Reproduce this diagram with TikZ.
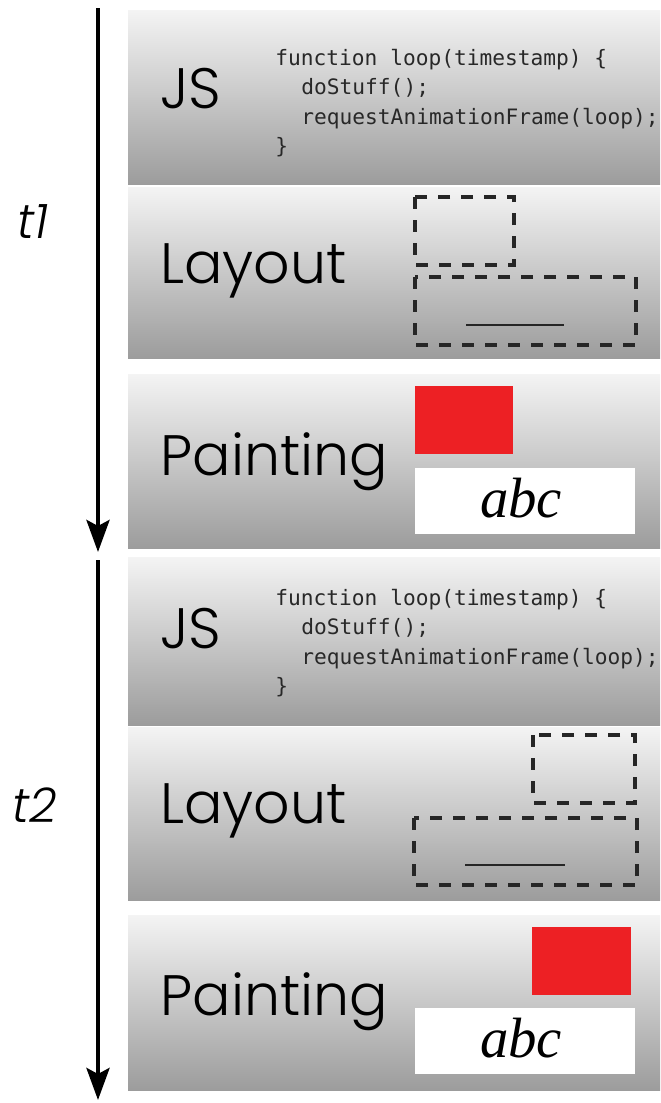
\documentclass[tikz,border=0pt]{standalone}
\usepackage{fontspec}
\setmainfont{Liberation Serif}
\newfontfamily\geofont{Poppins Light}
\newfontfamily\codefont{DejaVu Sans Mono}
\usetikzlibrary{arrows.meta}

\definecolor{bandtop}{RGB}{244,244,244}
\definecolor{bandbot}{RGB}{156,156,156}
\definecolor{paintred}{RGB}{237,32,36}
\definecolor{codegray}{RGB}{40,40,40}

\tikzset{
  band/.style={rectangle, anchor=north west, inner sep=0pt, outer sep=0pt,
    minimum width=266pt, top color=bandtop, bottom color=bandbot, draw=none},
  stage/.style={anchor=base west, inner sep=0pt,
    font=\geofont\fontsize{28.5}{30}\selectfont},
  codeline/.style={anchor=base west, inner sep=0pt, text=codegray,
    font=\codefont\fontsize{10.6}{13}\selectfont},
  tlabel/.style={anchor=center, inner sep=0pt,
    font=\geofont\itshape\fontsize{24}{26}\selectfont},
  timeline/.style={line width=2.2pt, -{Stealth[length=16pt,width=11.5pt,inset=3pt]}},
  layoutbox/.style={draw=black!85, line width=2pt, dash pattern=on 6pt off 5.5pt},
  textline/.style={draw=black!85, line width=1.3pt},
  glyph/.style={fill=paintred, draw=none},
  textbox/.style={fill=white, draw=none},
  sample/.style={anchor=base, inner sep=0pt,
    font=\itshape\fontsize{28.4}{30}\selectfont},
}

\begin{document}
\begin{tikzpicture}[x=0.5pt,y=-0.5pt]
  \useasboundingbox (0,0) rectangle (660,1103);

  % ---- frame t1 ----
  \node[band, minimum height=87pt] (js1) at (128,10) {};
  \node[band, minimum height=85.5pt] (lay1) at (128,187) {};
  \node[band, minimum height=87pt] (pnt1) at (128,374) {};

  % ---- frame t2 ----
  \node[band, minimum height=84pt] (js2) at (128,557) {};
  \node[band, minimum height=86.5pt] (lay2) at (128,727) {};
  \node[band, minimum height=87.5pt] (pnt2) at (128,915) {};

  % stage names
  \node[stage] (jsname1) at (160,108) {JS};
  \node[stage] (layname1) at (160,283) {Layout};
  \node[stage] (pntname1) at (160,475) {Painting};
  \node[stage] (jsname2) at (160,648) {JS};
  \node[stage] (layname2) at (160,823) {Layout};
  \node[stage] (pntname2) at (160,1015) {Painting};

  % callback source, frame t1
  \node[codeline] (codeAa) at (275,65) {function loop(timestamp) \{};
  \node[codeline] (codeAb) at (301,94.5) {doStuff();};
  \node[codeline] (codeAc) at (301,124) {requestAnimationFrame(loop);};
  \node[codeline] (codeAd) at (275,153.5) {\}};

  % callback source, frame t2
  \node[codeline] (codeBa) at (275,605) {function loop(timestamp) \{};
  \node[codeline] (codeBb) at (301,634.5) {doStuff();};
  \node[codeline] (codeBc) at (301,664) {requestAnimationFrame(loop);};
  \node[codeline] (codeBd) at (275,693.5) {\}};

  % layout boxes, frame t1
  \draw[layoutbox] (415,197) rectangle (514,265);
  \draw[layoutbox] (415,277) rectangle (636,345);
  \draw[textline] (466,325) -- (564,325);

  % layout boxes, frame t2
  \draw[layoutbox] (533,735) rectangle (635,803);
  \draw[layoutbox] (414,818) rectangle (637,885);
  \draw[textline] (465,865) -- (565,865);

  % painted result, frame t1
  \fill[glyph] (415,386) rectangle (513,454);
  \fill[textbox] (415,468) rectangle (635,534);
  \node[sample] (abc1) at (521,517) {abc};

  % painted result, frame t2
  \fill[glyph] (532,927) rectangle (631,995);
  \fill[textbox] (415,1008) rectangle (635,1074);
  \node[sample] (abc2) at (521,1057) {abc};

  % time axis
  \coordinate (tAstart) at (98,8);
  \coordinate (tAend) at (98,552);
  \coordinate (tBstart) at (98,560);
  \coordinate (tBend) at (98,1100);
  \draw[timeline] (tAstart) -- (tAend);
  \draw[timeline] (tBstart) -- (tBend);
  \node[tlabel] (t1) at (33,222) {t1};
  \node[tlabel] (t2) at (35,805) {t2};
\end{tikzpicture}
\end{document}
